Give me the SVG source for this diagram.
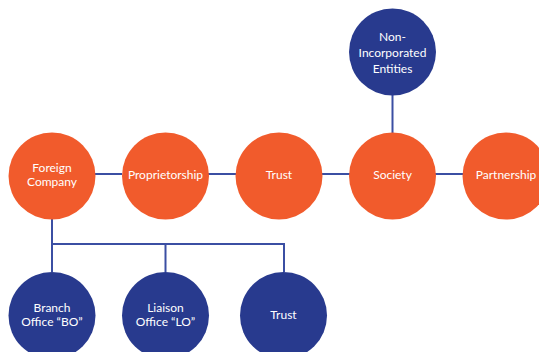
<svg xmlns="http://www.w3.org/2000/svg" width="539" height="352" viewBox="0 0 539 352">
<style>
.o{fill:#F15B2C}
.b{fill:#283A8E}
.c{stroke:#3B4FA3;stroke-width:2;fill:none}
text{font-family:Lato,"Open Sans","Liberation Sans",sans-serif;font-size:12px;fill:#ffffff;text-anchor:middle}
</style>
<rect width="539" height="352" fill="#ffffff"/>
<g id="connectors" class="c">
<line x1="95" y1="174" x2="122" y2="174"/>
<line x1="208" y1="174" x2="236" y2="174"/>
<line x1="322" y1="174" x2="350" y2="174"/>
<line x1="435" y1="174" x2="463" y2="174"/>
<line x1="392.5" y1="95" x2="392.5" y2="133"/>
<polyline points="52,218 52,272"/>
<polyline points="52,244 284,244 284,272"/>
<line x1="165.5" y1="244" x2="165.5" y2="272"/>
</g>
<g id="foreign-company"><circle class="o" cx="52" cy="176" r="43.5"/><text x="52" y="171.5">Foreign</text><text x="52" y="186">Company</text></g>
<g id="proprietorship"><circle class="o" cx="165.5" cy="176" r="43.5"/><text x="165.5" y="179">Proprietorship</text></g>
<g id="trust"><circle class="o" cx="279" cy="176" r="43.5"/><text x="279" y="179">Trust</text></g>
<g id="society"><circle class="o" cx="392.5" cy="176" r="43.5"/><text x="392.5" y="179">Society</text></g>
<g id="partnership"><circle class="o" cx="506" cy="176" r="43.5"/><text x="506" y="179">Partnership</text></g>
<g id="non-incorporated"><circle class="b" cx="392.5" cy="52" r="43.5"/><text x="392.5" y="40.5">Non-</text><text x="392.5" y="56.5">Incorporated</text><text x="392.5" y="72.5">Entities</text></g>
<g id="branch-office"><circle class="b" cx="52" cy="315.5" r="43.5"/><text x="52" y="312">Branch</text><text x="52" y="326">Office “BO”</text></g>
<g id="liaison-office"><circle class="b" cx="165.5" cy="315.5" r="43.5"/><text x="165.5" y="312">Liaison</text><text x="165.5" y="326">Office “LO”</text></g>
<g id="trust-2"><circle class="b" cx="283.5" cy="315.5" r="43.5"/><text x="283.5" y="319">Trust</text></g>
</svg>
